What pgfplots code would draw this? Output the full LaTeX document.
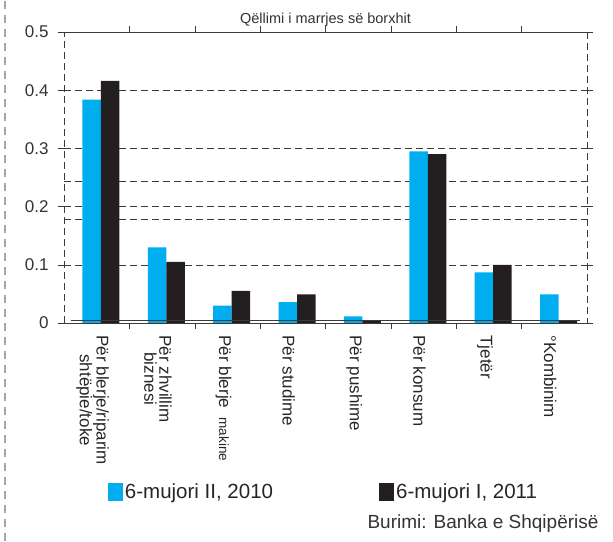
\documentclass[border=0pt]{standalone}
\usepackage{pgfplots}
\pgfplotsset{compat=1.18}
\usepackage{fontspec}
\setmainfont{Liberation Sans}

\definecolor{cyanbar}{HTML}{00AEEF}
\definecolor{darkbar}{HTML}{231F20}
\definecolor{gridgray}{HTML}{3A3A3A}

\begin{document}
\begin{tikzpicture}[x=1pt,y=1pt]
\useasboundingbox (0,0) rectangle (613,541);
% outer dashed frame on the left
\draw[gray!70, dashed, line width=1.2pt, dash pattern=on 8pt off 6pt] (5,0) -- (5,541);

\begin{axis}[
    at={(64pt,218pt)}, anchor=south west,
    scale only axis,
    width=523pt, height=291pt,
    ybar,
    bar width=18.5pt,
    xmin=-0.5, xmax=7.5,
    ymin=0, ymax=0.5,
    ytick={0,0.1,0.2,0.3,0.4,0.5},
    /pgf/number format/assume math mode=true,
    yticklabel style={/pgf/number format/fixed, /pgf/number format/precision=1,
        font=\fontsize{17}{17}\selectfont, text=black!80, xshift=-6pt},
    tick align=outside,
    major tick length=6pt,
    ytick style={gridgray, thin},
    xtick={0,1,2,3,4,5,6,7},
    xtick style={draw=none},
    xticklabels={
        {Për blerje/riparim\\shtëpie/toke},
        {Për zhvillim\\biznesi},
        {Për blerje \ {\fontsize{13.5}{13.5}\selectfont makine}},
        {Për studime},
        {Për pushime},
        {Për konsum},
        {Tjetër},
        {\textdegree Kombinim}},
    xticklabel style={rotate=-90, anchor=west, align=center,
        font=\fontsize{17}{15}\selectfont, text=black!85, xshift=3pt, yshift=-4pt},
    extra x ticks={0.5,1.5,2.5,3.5,4.5,5.5,6.5},
    extra x tick labels={},
    extra x tick style={xtick style={draw=gridgray, thin}, major tick length=6pt},
    ymajorgrids,
    extra y ticks={0.178,0.243},
    extra y tick labels={},
    extra y tick style={ytick style={draw=none}},
    grid style={gridgray, dashed, dash pattern=on 7pt off 4pt, thin},
    axis line style={gridgray, dashed, dash pattern=on 7pt off 4pt, thin},
    title={Qëllimi i marrjes së borxhit},
    title style={font=\fontsize{14.5}{14.5}\selectfont, text=black!80, yshift=-4pt},
    legend style={at={(0.078,-0.58)}, anchor=west, draw=none, fill=none,
        font=\fontsize{20.5}{20.5}\selectfont, text=black!85,
        legend columns=2, /tikz/every even column/.append style={column sep=104pt}},
    legend image code/.code={\fill[#1] (0pt,-9pt) rectangle (15pt,9pt);},
]
\addplot[fill=cyanbar, draw=none, bar shift=-5pt] coordinates {
    (0,0.384) (1,0.130) (2,0.030) (3,0.036) (4,0.0115) (5,0.295) (6,0.087) (7,0.049)
};
\addlegendentry{6-mujori II, 2010}
\addplot[fill=darkbar, draw=none, bar shift=13.5pt] coordinates {
    (0,0.416) (1,0.105) (2,0.055) (3,0.049) (4,0.004) (5,0.290) (6,0.100) (7,0.004)
};
\addlegendentry{6-mujori I, 2011}
\draw[gridgray, thick, dashed, dash pattern=on 5pt off 3pt] (axis cs:-0.5,0) -- (axis cs:7.5,0);
\draw[gridgray, thin] (axis cs:-0.4,0.005) -- (axis cs:7.4,0.005);
\end{axis}
\node[anchor=east, font=\fontsize{19}{19}\selectfont, text=black!80] at (602,17) {Burimi: Banka e Shqipërisë};
\end{tikzpicture}
\end{document}
